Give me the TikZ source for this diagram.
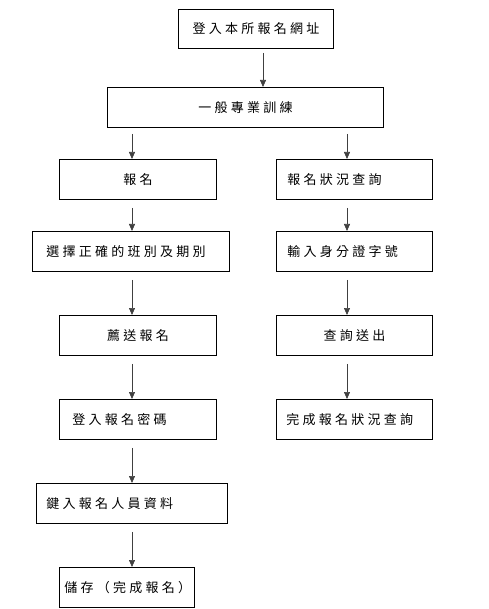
\documentclass[tikz,border=0pt]{standalone}
\usepackage{fontspec}
\newfontfamily\cjk[LetterSpace=25]{Noto Sans CJK TC}
\usetikzlibrary{arrows.meta}
\definecolor{arrgray}{HTML}{404040}
\begin{document}
\begin{tikzpicture}[x=1pt,y=-1pt,
  box/.style={draw=black,line width=0.8pt,inner ysep=0pt,anchor=north west,
    font=\cjk\fontsize{13}{15}\selectfont},
  cbox/.style n args={2}{box,inner xsep=0pt,text width=#1,minimum height=#2,align=center},
  lbox/.style n args={3}{box,inner xsep=#3,text width=#1-2*#3,minimum height=#2,align=left},
  arr/.style={draw=arrgray,line width=0.7pt,-{Triangle[width=6pt,length=7pt]}}]
\useasboundingbox (0,0) rectangle (488,609);
\coordinate (colT) at (263,0);
\coordinate (colL) at (132,0);
\coordinate (colR) at (347,0);
% boxes
\node[cbox={155pt}{39pt}] (b1) at (178,9) {登入本所報名網址};
\node[cbox={276pt}{40pt}] (b2) at (107,87) {一般專業訓練};
\node[cbox={157pt}{40pt}] (L1) at (59,159) {報名};
\node[lbox={156pt}{40pt}{11pt}] (R1) at (276,159) {報名狀況查詢};
\node[lbox={197pt}{40pt}{14pt}] (L2) at (32,231) {選擇正確的班別及期別};
\node[lbox={156pt}{40pt}{11pt}] (R2) at (276,231) {輸入身分證字號};
\node[cbox={157pt}{40pt}] (L3) at (59,315) {薦送報名};
\node[cbox={156pt}{40pt}] (R3) at (276,315) {查詢送出};
\node[lbox={157pt}{40pt}{13pt}] (L4) at (59,399) {登入報名密碼};
\node[lbox={156pt}{40pt}{10pt}] (R4) at (276,399) {完成報名狀況查詢};
\node[lbox={191pt}{40pt}{10pt}] (L5) at (36,483) {鍵入報名人員資料};
\node[lbox={135pt}{40pt}{5pt}] (L6) at (59,567) {儲存（完成報名）};
% connectors
\draw[arr] ([yshift=-4pt]b1.south -| colT) -- (b2.north -| colT);
\draw[arr] ([yshift=-6pt]b2.south -| colL) -- (L1.north -| colL);
\draw[arr] ([yshift=-6pt]b2.south -| colR) -- (R1.north -| colR);
\draw[arr] ([yshift=-8pt]L1.south -| colL) -- (L2.north -| colL);
\draw[arr] ([yshift=-8pt]R1.south -| colR) -- (R2.north -| colR);
\draw[arr] ([yshift=-8pt]L2.south -| colL) -- (L3.north -| colL);
\draw[arr] ([yshift=-8pt]R2.south -| colR) -- (R3.north -| colR);
\draw[arr] ([yshift=-8pt]L3.south -| colL) -- (L4.north -| colL);
\draw[arr] ([yshift=-8pt]R3.south -| colR) -- (R4.north -| colR);
\draw[arr] ([yshift=-8pt]L4.south -| colL) -- (L5.north -| colL);
\draw[arr] ([yshift=-8pt]L5.south -| colL) -- (L6.north -| colL);
\end{tikzpicture}
\end{document}
